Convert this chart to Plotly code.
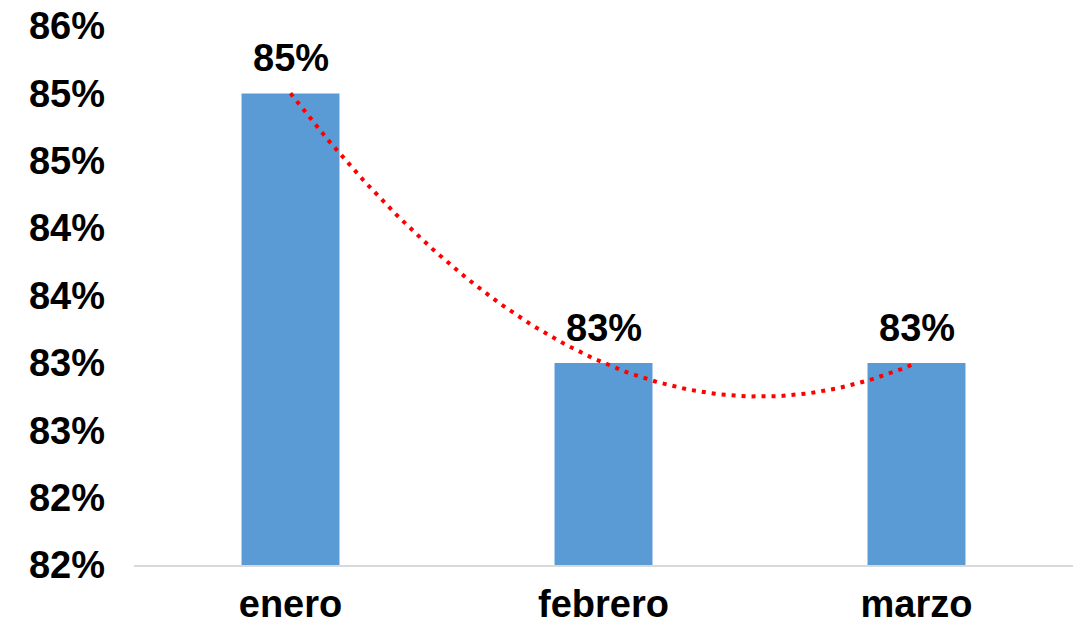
import numpy as np
import plotly.graph_objects as go

categories = ["enero", "febrero", "marzo"]
values = [0.853, 0.833, 0.833]
tick_vals = [0.818, 0.823, 0.828, 0.833, 0.838, 0.843, 0.848, 0.853, 0.858]

FONT = "Liberation Sans, Arial, sans-serif"
FS = 38

fig = go.Figure()
fig.add_trace(go.Bar(
    x=categories, y=values,
    marker=dict(color="#5B9BD5", line=dict(width=0)),
    hoverinfo="skip",
))

# polynomial (order 2) trendline, as in the spreadsheet
idx = np.arange(len(categories))
coef = np.polyfit(idx, values, 2)
xs = np.linspace(0, len(categories) - 1, 200)
ys = np.polyval(coef, xs)
fig.add_trace(go.Scatter(
    x=xs, y=ys, mode="lines",
    line=dict(color="#FF0000", width=4, dash="4px,6px"),
    xaxis="x2", hoverinfo="skip",
))

for c, v in zip(categories, values):
    fig.add_annotation(
        x=c, y=v, text=f"{v*100:.0f}%", showarrow=False,
        yanchor="bottom", yshift=12,
        font=dict(family=FONT, size=FS, color="#000000", weight="bold"),
    )

fig.update_layout(
    width=1082, height=626,
    margin=dict(l=134, r=9, t=26, b=61),
    paper_bgcolor="white", plot_bgcolor="white",
    showlegend=False, bargap=0.687,
    xaxis=dict(
        type="category", range=[-0.5, 2.5], automargin=False,
        showline=True, linecolor="#D9D9D9", linewidth=1.5,
        showgrid=False, zeroline=False, ticks="",
        tickfont=dict(family=FONT, size=FS, color="#000000", weight="bold"),
        ticklabelstandoff=5,
    ),
    xaxis2=dict(
        overlaying="x", range=[-0.5, 2.5], visible=False,
    ),
    yaxis=dict(
        range=[tick_vals[0], tick_vals[-1]], automargin=False,
        tickvals=tick_vals, tickformat=".0%",
        showline=False, showgrid=False, zeroline=False, ticks="",
        tickfont=dict(family=FONT, size=FS, color="#000000", weight="bold"),
        ticklabelstandoff=28,
    ),
)

fig.write_html("out.html")
